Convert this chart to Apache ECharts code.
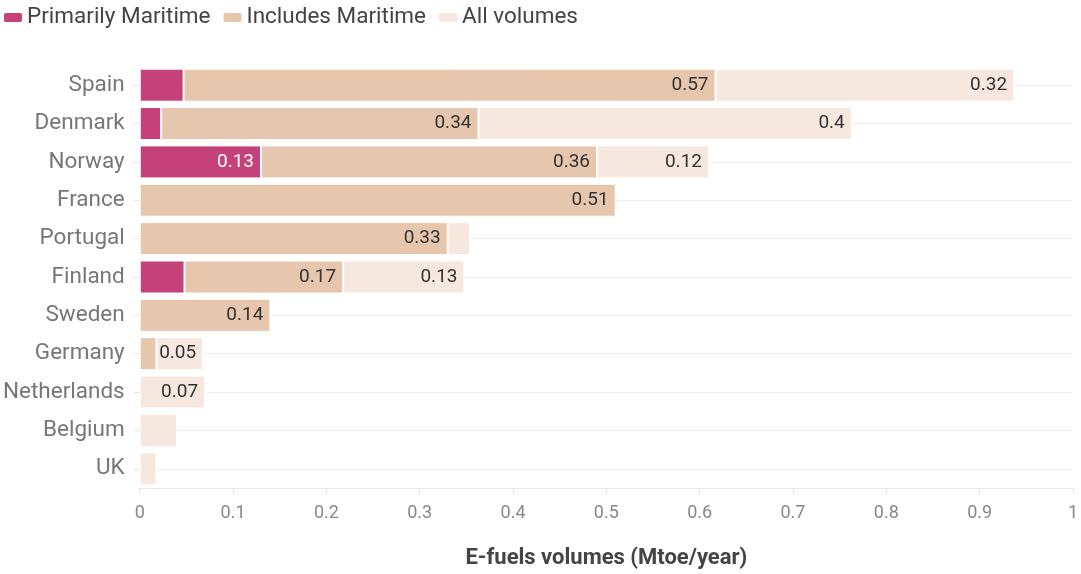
<!DOCTYPE html>
<html>
<head>
<meta charset="utf-8">
<script src="https://cdn.jsdelivr.net/npm/echarts@6/dist/echarts.min.js"></script>
<style>
  html, body { margin: 0; padding: 0; background: #fff; }
  #chart { width: 1081px; height: 574px; }
</style>
</head>
<body>
<div id="chart"></div>
<script>
// Countries, top to bottom
const countries = ['Spain', 'Denmark', 'Norway', 'France', 'Portugal', 'Finland', 'Sweden', 'Germany', 'Netherlands', 'Belgium', 'UK'];

// E-fuels volumes (Mtoe/year) per category; null = no volume
const primarilyMaritime = [0.047, 0.023, 0.13, null, null, 0.048, null, null, null, null, null];
const includesMaritime  = [0.57, 0.34, 0.36, 0.51, 0.33, 0.17, 0.14, 0.018, null, null, null];
const allVolumes        = [0.32, 0.4, 0.12, null, 0.024, 0.13, null, 0.05, 0.07, 0.04, 0.018];

const xTicks = [0, 0.1, 0.2, 0.3, 0.4, 0.5, 0.6, 0.7, 0.8, 0.9, 1];

const FONT = 'Roboto, "Noto Sans", sans-serif';

function valueLabel(color) {
  return {
    show: true,
    position: 'insideRight',
    distance: 7,
    color: color,
    fontFamily: FONT,
    fontSize: 19,
    formatter: p => (p.value != null && p.value >= 0.05) ? String(p.value) : ''
  };
}

function series(name, data, color, labelColor) {
  return {
    name: name,
    type: 'bar',
    stack: 'total',
    barWidth: 33,
    data: data,
    itemStyle: { color: color, borderColor: '#fff', borderWidth: 1 },
    label: valueLabel(labelColor),
    emphasis: { disabled: true },
    animation: false
  };
}

const chart = echarts.init(document.getElementById('chart'), null, { renderer: 'canvas' });
chart.setOption({
  backgroundColor: '#fff',
  animation: false,
  legend: {
    left: 2,
    top: 6,
    padding: 0,
    itemWidth: 20,
    itemHeight: 11,
    itemGap: 11,
    icon: 'roundRect',
    textStyle: { fontFamily: FONT, fontSize: 22.5, color: '#444', padding: [0, 0, 0, -1] },
    data: ['Primarily Maritime', 'Includes Maritime', 'All volumes']
  },
  grid: { left: 139, right: 8, top: 66, bottom: 85, containLabel: false },
  xAxis: {
    type: 'value',
    min: xTicks[0],
    max: xTicks[xTicks.length - 1],
    interval: 0.1,
    name: 'E-fuels volumes (Mtoe/year)',
    nameLocation: 'middle',
    nameGap: 59,
    nameTextStyle: { fontFamily: FONT, fontSize: 22, fontWeight: 'bold', color: '#444' },
    axisLine: { show: true, lineStyle: { color: '#e6e6e6', width: 1 } },
    axisTick: { show: true, length: 6, lineStyle: { color: '#e6e6e6' } },
    axisLabel: { fontFamily: FONT, fontSize: 18, color: '#888', margin: 16 },
    splitLine: { show: false }
  },
  yAxis: {
    type: 'category',
    data: countries,
    inverse: true,
    axisLine: { show: false },
    axisTick: { show: true, alignWithLabel: true, length: 6, lineStyle: { color: '#e6e6e6' } },
    axisLabel: { fontFamily: FONT, fontSize: 22.5, color: '#777', margin: 15 },
    splitLine: { show: true, alignWithLabel: true, lineStyle: { color: '#efefef', width: 1 } }
  },
  series: [
    series('Primarily Maritime', primarilyMaritime, '#c4417a', '#fff'),
    series('Includes Maritime', includesMaritime, '#e6c6ac', '#333'),
    series('All volumes', allVolumes, '#f6e8de', '#333')
  ]
});
</script>
</body>
</html>
